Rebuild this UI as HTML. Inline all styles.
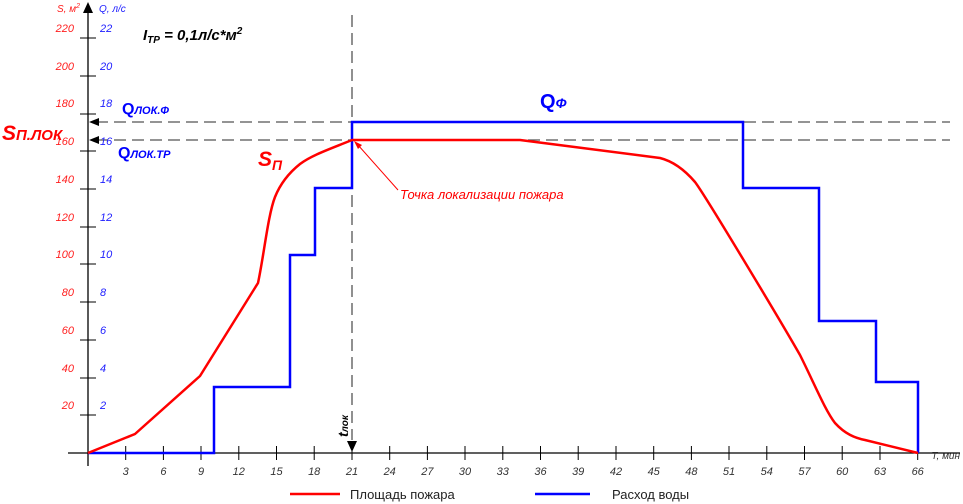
<!DOCTYPE html>
<html><head><meta charset="utf-8"><style>
body{margin:0;background:#fff}
svg{display:block;font-family:"Liberation Sans",Arial,sans-serif}
</style></head><body>
<svg width="963" height="504" viewBox="0 0 963 504">
<g stroke="#555" stroke-width="1.3" stroke-dasharray="12,6" fill="none">
<line x1="96" y1="122" x2="950" y2="122"/>
<line x1="96" y1="140" x2="950" y2="140"/>
<line x1="352" y1="15" x2="352" y2="440"/>
</g>
<polygon points="89,122 99,118 99,126" fill="#000"/>
<polygon points="89,140 99,136 99,144" fill="#000"/>
<polygon points="352,452 347,441 357,441" fill="#000"/>
<g stroke="#000" stroke-width="1.3">
<line x1="88" y1="8" x2="88" y2="466"/>
<line x1="68" y1="453" x2="960" y2="453"/>
</g>
<polygon points="88,2 83,13 93,13" fill="#000"/>
<g stroke="#000" stroke-width="1">
<line x1="80" y1="38" x2="96" y2="38"/><line x1="80" y1="76" x2="96" y2="76"/>
<line x1="80" y1="114" x2="96" y2="114"/><line x1="80" y1="151" x2="96" y2="151"/>
<line x1="80" y1="189" x2="96" y2="189"/><line x1="80" y1="227" x2="96" y2="227"/>
<line x1="80" y1="264" x2="96" y2="264"/><line x1="80" y1="302" x2="96" y2="302"/>
<line x1="80" y1="340" x2="96" y2="340"/><line x1="80" y1="378" x2="96" y2="378"/>
<line x1="80" y1="415" x2="96" y2="415"/>
<line x1="125.7" y1="446" x2="125.7" y2="460"/><line x1="163.4" y1="446" x2="163.4" y2="460"/>
<line x1="201" y1="446" x2="201" y2="460"/><line x1="238.8" y1="446" x2="238.8" y2="460"/>
<line x1="276.5" y1="446" x2="276.5" y2="460"/><line x1="314.2" y1="446" x2="314.2" y2="460"/>
<line x1="352" y1="446" x2="352" y2="460"/><line x1="389.7" y1="446" x2="389.7" y2="460"/>
<line x1="427.4" y1="446" x2="427.4" y2="460"/><line x1="465" y1="446" x2="465" y2="460"/>
<line x1="502.8" y1="446" x2="502.8" y2="460"/><line x1="540.5" y1="446" x2="540.5" y2="460"/>
<line x1="578.2" y1="446" x2="578.2" y2="460"/><line x1="616" y1="446" x2="616" y2="460"/>
<line x1="653.7" y1="446" x2="653.7" y2="460"/><line x1="691.4" y1="446" x2="691.4" y2="460"/>
<line x1="729" y1="446" x2="729" y2="460"/><line x1="766.8" y1="446" x2="766.8" y2="460"/>
<line x1="804.5" y1="446" x2="804.5" y2="460"/><line x1="842.2" y1="446" x2="842.2" y2="460"/>
<line x1="880" y1="446" x2="880" y2="460"/><line x1="917.7" y1="446" x2="917.7" y2="460"/>
</g>
<g font-size="11" font-style="italic" fill="#333" text-anchor="middle">
<text x="125.7" y="475">3</text><text x="163.4" y="475">6</text><text x="201" y="475">9</text>
<text x="238.8" y="475">12</text><text x="276.5" y="475">15</text><text x="314.2" y="475">18</text>
<text x="352" y="475">21</text><text x="389.7" y="475">24</text><text x="427.4" y="475">27</text>
<text x="465" y="475">30</text><text x="502.8" y="475">33</text><text x="540.5" y="475">36</text>
<text x="578.2" y="475">39</text><text x="616" y="475">42</text><text x="653.7" y="475">45</text>
<text x="691.4" y="475">48</text><text x="729" y="475">51</text><text x="766.8" y="475">54</text>
<text x="804.5" y="475">57</text><text x="842.2" y="475">60</text><text x="880" y="475">63</text>
<text x="917.7" y="475">66</text>
<text x="960" y="459" text-anchor="end" font-size="10">T, мин</text>
</g>
<g font-size="11" font-style="italic" fill="#ff2020" text-anchor="end">
<text x="74" y="32">220</text><text x="74" y="70">200</text><text x="74" y="107">180</text>
<text x="74" y="145">160</text><text x="74" y="183">140</text><text x="74" y="221">120</text>
<text x="74" y="258">100</text><text x="74" y="296">80</text><text x="74" y="334">60</text>
<text x="74" y="372">40</text><text x="74" y="409">20</text>
<text x="80" y="12" font-size="10">S, м<tspan font-size="7" dy="-4">2</tspan></text>
</g>
<g font-size="11" font-style="italic" fill="#2020ff">
<text x="100" y="32">22</text><text x="100" y="70">20</text><text x="100" y="107">18</text>
<text x="100" y="145">16</text><text x="100" y="183">14</text><text x="100" y="221">12</text>
<text x="100" y="258">10</text><text x="100" y="296">8</text><text x="100" y="334">6</text>
<text x="100" y="372">4</text><text x="100" y="409">2</text>
<text x="99" y="12" font-size="10">Q, л/с</text>
</g>
<polyline fill="none" stroke="#0000ff" stroke-width="2.5" points="88,453 214,453 214,387 290,387 290,255 315,255 315,188 352,188 352,122 743,122 743,188 819,188 819,321 876,321 876,382 918,382 918,453"/>
<path fill="none" stroke="#ff0000" stroke-width="2.5" stroke-linejoin="round" d="M88,453 L135,434 L200,376 L258,283 C264,255 268,215 275,197 C281,182 290,172 300,164 C312,155 330,149 352,140 L520,140 L660,158 C672,161 683,168 695,182 C705,195 780,320 800,355 C815,385 825,410 835,423 C845,434 855,438 865,440 L918,453"/>
<text x="143" y="40" font-size="15" font-weight="bold" font-style="italic">I<tspan font-size="10" dy="3">ТР</tspan><tspan dy="-3"> = 0,1л/с*м</tspan><tspan font-size="10" dy="-6">2</tspan></text>
<text x="2" y="140" font-size="21" font-weight="bold" font-style="italic" fill="#ff0000">S<tspan font-size="15">П.ЛОК</tspan></text>
<text x="122" y="114" font-size="16" font-weight="bold" fill="#0000ff">Q<tspan font-size="11" font-style="italic">ЛОК.Ф</tspan></text>
<text x="118" y="158" font-size="16" font-weight="bold" fill="#0000ff">Q<tspan font-size="11" font-style="italic">ЛОК.ТР</tspan></text>
<text x="540" y="108" font-size="20" font-weight="bold" fill="#0000ff">Q<tspan font-size="14" font-style="italic">Ф</tspan></text>
<text x="258" y="166" font-size="21" font-weight="bold" font-style="italic" fill="#ff0000">S<tspan font-size="14" dy="4">П</tspan></text>
<line x1="398" y1="190" x2="358" y2="145" stroke="#ff0000" stroke-width="1"/>
<polygon points="354,141 362,145 358,149" fill="#ff0000"/>
<text x="400" y="199" font-size="13" font-style="italic" fill="#ff0000">Точка локализации пожара</text>
<text transform="translate(348,437) rotate(-90)" font-size="14" font-weight="bold" font-style="italic">t<tspan font-size="10">лок</tspan></text>
<line x1="290" y1="494" x2="340" y2="494" stroke="#ff0000" stroke-width="2.5"/>
<text x="350" y="499" font-size="13" fill="#222">Площадь пожара</text>
<line x1="535" y1="494" x2="590" y2="494" stroke="#0000ff" stroke-width="2.5"/>
<text x="612" y="499" font-size="13" fill="#222">Расход воды</text>
</svg>
</body></html>
